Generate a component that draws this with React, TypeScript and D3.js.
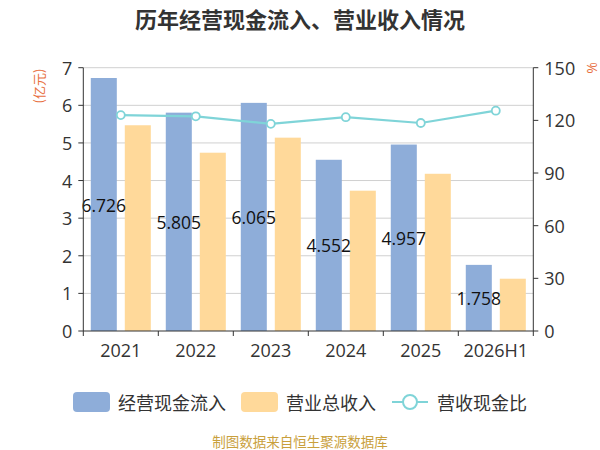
import React from 'react';
import * as d3 from 'd3';

const years = ['2021', '2022', '2023', '2024', '2025', '2026H1'];
const cashInflow = [6.726, 5.805, 6.065, 4.552, 4.957, 1.758];
const revenue = [5.47, 4.74, 5.14, 3.73, 4.18, 1.39];
const cashRatio = [123.0, 122.3, 118.0, 121.8, 118.5, 125.5];
const leftTicks = [0, 1, 2, 3, 4, 5, 6, 7];
const rightTicks = [0, 30, 60, 90, 120, 150];

const W = 600;
const H = 450;
const margin = { top: 67.7, right: 66.7, bottom: 119, left: 83.3 };
const FONT = '"Open Sans", "Noto Sans CJK SC", sans-serif';
const CJK = '"Noto Sans CJK SC", sans-serif';
const BLUE = '#8eadd9';
const ORANGE = '#ffd99a';
const TEAL = '#7fd4d8';
const AXIS = '#333';
const RED = '#e8703f';

const App: React.FC = () => {
  const x0 = margin.left;
  const x1 = W - margin.right;
  const yBase = H - margin.bottom;

  const x = d3.scaleBand<string>().domain(years).range([x0, x1]).padding(0);
  const inner = d3.scaleBand<number>()
    .domain([0, 1])
    .range([0, x.bandwidth()])
    .paddingInner(0.235)
    .paddingOuter(0.22);
  const yL = d3.scaleLinear().domain([0, 7]).range([yBase, margin.top]);
  const yR = d3.scaleLinear().domain([0, 150]).range([yBase, margin.top]);

  const line = d3.line<number>()
    .x((_, i) => (x(years[i]) as number) + x.bandwidth() / 2)
    .y(d => yR(d));

  return (
    <svg width={W} height={H} style={{ position: 'absolute', left: 0, top: 0, fontFamily: FONT }}>
      <text x={W / 2} y={18} textAnchor="middle" dominantBaseline="central" fontSize={22}
        fontWeight="bold" fill="#333" fontFamily={CJK}>
        历年经营现金流入、营业收入情况
      </text>

      {/* grid */}
      {leftTicks.slice(1).map(t => (
        <line key={'g' + t} x1={x0} x2={x1} y1={yL(t)} y2={yL(t)} stroke="#d0d0d0" strokeWidth={1} />
      ))}

      {/* bars */}
      {years.map((yr, i) => {
        const bx = x(yr) as number;
        return (
          <g key={yr}>
            <rect x={bx + (inner(0) as number)} y={yL(cashInflow[i])} width={inner.bandwidth()}
              height={yBase - yL(cashInflow[i])} fill={BLUE} />
            <rect x={bx + (inner(1) as number)} y={yL(revenue[i])} width={inner.bandwidth()}
              height={yBase - yL(revenue[i])} fill={ORANGE} />
          </g>
        );
      })}

      {/* value labels */}
      {years.map((yr, i) => {
        const cx = (x(yr) as number) + (inner(0) as number) + inner.bandwidth() / 2;
        const cy = (yL(cashInflow[i]) + yBase) / 2;
        return (
          <text key={'v' + yr} x={cx} y={cy} textAnchor="middle" dominantBaseline="central"
            fontSize={17.5} fill="#111">
            {cashInflow[i].toFixed(3)}
          </text>
        );
      })}

      {/* ratio line */}
      <path d={line(cashRatio) || ''} fill="none" stroke={TEAL} strokeWidth={2.2} />
      {cashRatio.map((v, i) => (
        <circle key={'c' + i} cx={(x(years[i]) as number) + x.bandwidth() / 2} cy={yR(v)} r={4}
          fill="#fff" stroke={TEAL} strokeWidth={1.8} />
      ))}

      {/* left axis */}
      <line x1={x0} x2={x0} y1={margin.top} y2={yBase} stroke={AXIS} />
      {leftTicks.map(t => (
        <g key={'l' + t}>
          <line x1={x0 - 5} x2={x0} y1={yL(t)} y2={yL(t)} stroke={AXIS} />
          <text x={x0 - 11} y={yL(t)} textAnchor="end" dominantBaseline="central" fontSize={18} fill="#333">
            {t}
          </text>
        </g>
      ))}
      <text transform={`translate(38,86) rotate(-90)`} textAnchor="middle" dominantBaseline="central"
        fontSize={13} fill={RED} fontFamily={CJK}>
        (亿元)
      </text>

      {/* right axis */}
      <line x1={x1} x2={x1} y1={margin.top} y2={yBase} stroke={AXIS} />
      {rightTicks.map(t => (
        <g key={'r' + t}>
          <line x1={x1} x2={x1 + 5} y1={yR(t)} y2={yR(t)} stroke={AXIS} />
          <text x={x1 + 11} y={yR(t)} textAnchor="start" dominantBaseline="central" fontSize={18} fill="#333">
            {t}
          </text>
        </g>
      ))}
      <text transform={`translate(591,68) rotate(-90)`} textAnchor="middle" dominantBaseline="central"
        fontSize={14} fill={RED}>
        %
      </text>

      {/* x axis */}
      <line x1={x0} x2={x1} y1={yBase} y2={yBase} stroke={AXIS} />
      {d3.range(years.length + 1).map(i => {
        const tx = x0 + i * x.step();
        return <line key={'xt' + i} x1={tx} x2={tx} y1={yBase} y2={yBase + 5} stroke={AXIS} />;
      })}
      {years.map(yr => (
        <text key={'xl' + yr} x={(x(yr) as number) + x.bandwidth() / 2} y={350} textAnchor="middle"
          dominantBaseline="central" fontSize={18} fill="#333">
          {yr}
        </text>
      ))}

      {/* legend */}
      <g fontFamily={CJK} fontSize={18} fill="#333">
        <rect x={73} y={392} width={37} height={20} rx={4} fill={BLUE} />
        <text x={118} y={402} dominantBaseline="central">经营现金流入</text>
        <rect x={241} y={392} width={37} height={20} rx={4} fill={ORANGE} />
        <text x={286} y={402} dominantBaseline="central">营业总收入</text>
        <line x1={392} x2={428} y1={402} y2={402} stroke={TEAL} strokeWidth={2} />
        <circle cx={410} cy={402} r={7} fill="#fff" stroke={TEAL} strokeWidth={2} />
        <text x={437} y={402} dominantBaseline="central">营收现金比</text>
      </g>

      <text x={W / 2} y={441} textAnchor="middle" dominantBaseline="central" fontSize={13.5}
        fill="#c9a03c" fontFamily={CJK}>
        制图数据来自恒生聚源数据库
      </text>
    </svg>
  );
};

export default App;
